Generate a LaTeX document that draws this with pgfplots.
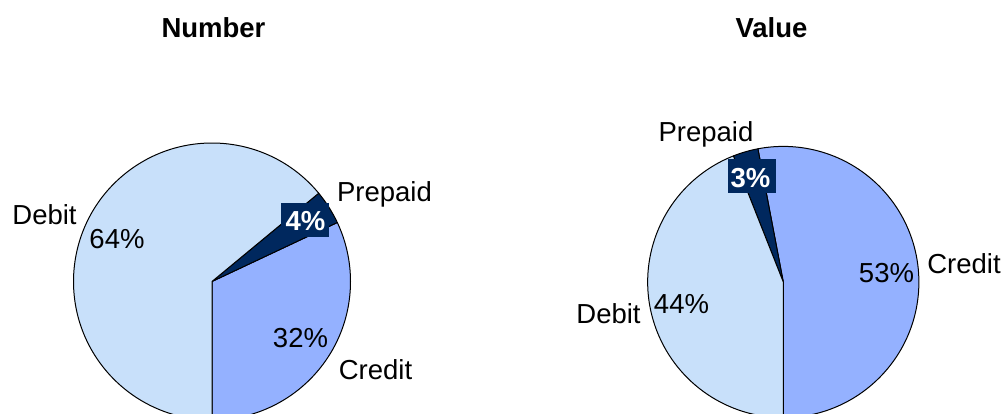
\documentclass[border=0pt]{standalone}
\usepackage{pgfplots}
\pgfplotsset{compat=1.18}
\usepackage{fontspec}
\setmainfont{Liberation Sans}
\definecolor{debitc}{RGB}{200,224,250}
\definecolor{creditc}{RGB}{148,177,255}
\definecolor{prepc}{RGB}{0,40,94}
\newcommand\lbl{\fontsize{27.5bp}{33bp}\selectfont}
% slice: center x, center y, radius (bp), from %, to %, colour
\newcommand\pieslice[6]{%
  \filldraw[fill=#6, draw=black, line width=1bp, line join=round]
    (axis cs:#1,#2) -- ++({-90+3.6*#4}:#3bp)
    arc[start angle={-90+3.6*#4}, end angle={-90+3.6*#5}, radius=#3bp] -- cycle;}
\begin{document}
\begin{tikzpicture}
\useasboundingbox (0,0) rectangle (1003bp,414bp);
\begin{axis}[x=1bp, y=1bp, xmin=0, xmax=1003, ymin=0, ymax=414,
  hide axis, scale only axis, clip=true, at={(0,0)}, anchor=origin]
% Number: Credit 32, Prepaid 4, Debit 64 (counter-clockwise from bottom)
\pieslice{212}{132.5}{138.5}{0}{32}{creditc}
\pieslice{212}{132.5}{138.5}{32}{36}{prepc}
\pieslice{212}{132.5}{138.5}{36}{100}{debitc}
% Value: Credit 53, Prepaid 3, Debit 44
\pieslice{783.3}{132}{135.6}{0}{53}{creditc}
\pieslice{783.3}{132}{135.6}{53}{56}{prepc}
\pieslice{783.3}{132}{135.6}{56}{100}{debitc}
% titles
\node[anchor=base, inner sep=0pt, font=\lbl\bfseries] at (axis cs:213.5,377) {Number};
\node[anchor=base, inner sep=0pt, font=\lbl\bfseries] at (axis cs:771.5,377) {Value};
% left labels
\node[anchor=base, inner sep=0pt, font=\lbl] at (axis cs:44.5,190) {Debit};
\node[anchor=base, inner sep=0pt, font=\lbl] at (axis cs:117,166) {64\%};
\node[anchor=base, inner sep=0pt, font=\lbl] at (axis cs:384.5,213) {Prepaid};
\node[fill=prepc, inner sep=0pt, minimum width=48bp, minimum height=34bp] at (axis cs:305,194) {};
\node[anchor=base, inner sep=0pt, font=\lbl\bfseries, text=white] at (axis cs:305.5,184) {4\%};
\node[anchor=base, inner sep=0pt, font=\lbl] at (axis cs:300.5,67) {32\%};
\node[anchor=base, inner sep=0pt, font=\lbl] at (axis cs:375.5,35) {Credit};
% right labels
\node[anchor=base, inner sep=0pt, font=\lbl] at (axis cs:706,273) {Prepaid};
\node[fill=prepc, inner sep=0pt, minimum width=48bp, minimum height=34bp] at (axis cs:752,238) {};
\node[anchor=base, inner sep=0pt, font=\lbl\bfseries, text=white] at (axis cs:750.5,227) {3\%};
\node[anchor=base, inner sep=0pt, font=\lbl] at (axis cs:964,141) {Credit};
\node[anchor=base, inner sep=0pt, font=\lbl] at (axis cs:886.5,132) {53\%};
\node[anchor=base, inner sep=0pt, font=\lbl] at (axis cs:608.5,91) {Debit};
\node[anchor=base, inner sep=0pt, font=\lbl] at (axis cs:681.5,101) {44\%};
\end{axis}
\end{tikzpicture}
\end{document}
